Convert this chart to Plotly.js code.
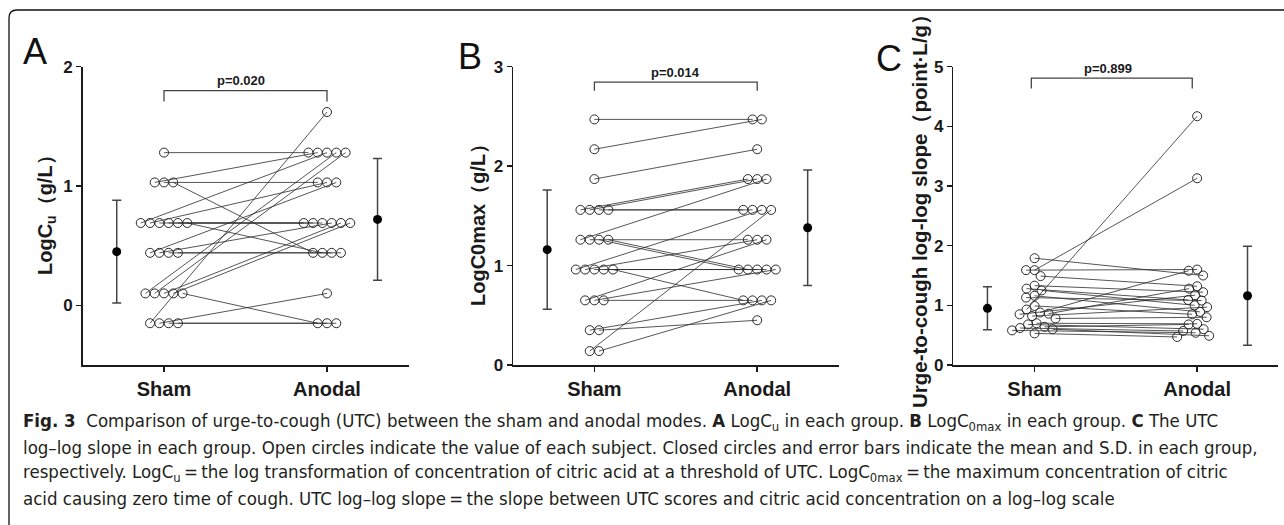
<!DOCTYPE html>
<html><head><meta charset="utf-8">
<script src="https://cdn.plot.ly/plotly-3.0.1.min.js"></script>
<style>html,body{margin:0;padding:0;background:#fff;} #chart{width:1284px;height:525px;}</style>
</head><body><div id="chart"></div>
<script>
// ---------- data ----------
const groups = ["Sham", "Anodal"];

// Panel A: LogCu, each subject paired (sham -> anodal)
const shamA   = [1.28, 1.03,1.03,1.03, 0.69,0.69,0.69,0.69,0.69,0.69, 0.44,0.44,0.44,0.44, 0.10,0.10,0.10,0.10,0.10, -0.15,-0.15,-0.15,-0.15];
const anodalA = [1.28, 1.28,1.03,0.44, 1.28,1.03,0.69,0.69,0.69,0.44, 1.03,0.69,0.44,0.44, 1.28,1.28,0.69,0.69,-0.15, 1.62,0.10,-0.15,-0.15];
const meanA = [0.45, 0.72];
const sdA   = [0.43, 0.51];
const pA = "p=0.020";

// Panel B: LogC0max
const shamB   = [2.47, 2.17, 1.87, 1.56,1.56,1.56,1.56, 1.26,1.26,1.26,1.26, 0.96,0.96,0.96,0.96,0.96, 0.65,0.65,0.65, 0.35,0.35, 0.14,0.14];
const anodalB = [2.47, 2.47, 2.17, 1.87,1.87,1.56,1.56, 1.87,1.26,0.96,0.96, 1.56,1.26,0.96,0.96,0.65, 1.26,0.96,0.65, 0.65,0.45, 1.56,0.65];
const meanB = [1.16, 1.38];
const sdB   = [0.60, 0.58];
const pB = "p=0.014";

// Panel C: UTC log-log slope
const shamC   = [1.79, 1.59, 1.59, 1.49, 1.33, 1.28, 1.25, 1.16, 1.13, 0.99, 0.93, 0.88, 0.86, 0.85, 0.82, 0.78, 0.70, 0.68, 0.64, 0.62, 0.60, 0.58, 0.53];
const anodalC = [1.50, 3.13, 1.60, 1.32, 1.22, 1.09, 1.00, 0.89, 1.08, 0.85, 4.17, 1.58, 1.28, 1.17, 0.97, 0.80, 0.69, 0.60, 0.68, 0.57, 0.49, 0.54, 0.47];
const meanC = [0.95, 1.16];
const sdC   = [0.36, 0.83];
const pC = "p=0.899";

const yTitles = ["LogC<sub>u</sub>（g/L）", "LogC0max（g/L）", "Urge-to-cough log-log slope（point·L/g）"];
const yTicks = [[0,1,2],[0,1,2,3],[0,1,2,3,4,5]];
const panelLetters = ["A","B","C"];

const captionLines = [
  "<b>Fig. 3</b>  Comparison of urge-to-cough (UTC) between the sham and anodal modes. <b>A</b> LogC<sub>u</sub> in each group. <b>B</b> LogC<sub>0max</sub> in each group. <b>C</b> The UTC",
  "log–log slope in each group. Open circles indicate the value of each subject. Closed circles and error bars indicate the mean and S.D. in each group,",
  "respectively. LogC<sub>u</sub>\u2009=\u2009the log transformation of concentration of citric acid at a threshold of UTC. LogC<sub>0max</sub>\u2009=\u2009the maximum concentration of citric",
  "acid causing zero time of cough. UTC log–log slope\u2009=\u2009the slope between UTC scores and citric acid concentration on a log–log scale"
];

// ---------- layout geometry ----------
const W = 1284, H = 525;
const px = v => v / W;
const py = v => 1 - v / H;
const plotTop = 66.7, plotBot = 365;
const FONT = "Arial, 'Liberation Sans', Helvetica, sans-serif";
const INK = "#1a1a1a";

const panels = [
  {sham: shamA, anodal: anodalA, mean: meanA, sd: sdA, p: pA, yr: [-0.5, 2], xd: [82.5, 408.5], swarm: false,
   br: {x0: 1, x1: 2, y: 1.80, drop: 0.092, ty: 1.885, tx: 1.47}, letter: {x: 23, y: 51}, title: {x: 46, y: 210, size: 20}},
  {sham: shamB, anodal: anodalB, mean: meanB, sd: sdB, p: pB, yr: [0, 3], xd: [513, 838.6], swarm: false,
   br: {x0: 1, x1: 2, y: 2.844, drop: 0.087, ty: 2.94, tx: 1.5}, letter: {x: 458, y: 57}, title: {x: 478, y: 220, size: 20}},
  {sham: shamC, anodal: anodalC, mean: meanC, sd: sdC, p: pC, yr: [0, 5], xd: [953.3, 1278.4], swarm: true,
   br: {x0: 0.98, x1: 1.97, y: 4.81, drop: 0.177, ty: 4.97, tx: 1.45}, letter: {x: 876, y: 59}, title: {x: 919, y: 206, size: 20.5}}
];

const DIAM = 9.3;

function rowOffsets(vals, unitPx) {
  const counts = {}, seen = {};
  vals.forEach(v => { const k = v.toFixed(2); counts[k] = (counts[k] || 0) + 1; });
  return vals.map(v => {
    const k = v.toFixed(2); const n = counts[k]; const i = seen[k] || 0; seen[k] = i + 1;
    return (i - (n - 1) / 2) * DIAM / unitPx;
  });
}
function swarmOffsets(vals, unitPx, yUnitPx) {
  const idx = vals.map((v, i) => i).sort((a, b) => vals[b] - vals[a]);
  const placed = []; const off = new Array(vals.length).fill(0);
  idx.forEach(i => {
    const y = vals[i] * yUnitPx;
    for (let s = 0; s < 200; s++) {
      const cand = (s % 2 === 0 ? 1 : -1) * Math.ceil(s / 2) * 0.5;
      let ok = true;
      for (const p of placed) {
        const dx = cand - p.x, dy = y - p.y;
        if (dx * dx + dy * dy < DIAM * DIAM * 0.8) { ok = false; break; }
      }
      if (ok) { off[i] = cand / unitPx; placed.push({x: cand, y: y}); break; }
    }
  });
  return off;
}

const traces = [], shapes = [], annotations = [];
const layout = {
  width: W, height: H, margin: {l: 0, r: 0, t: 0, b: 0},
  paper_bgcolor: "#fff", plot_bgcolor: "rgba(0,0,0,0)",
  showlegend: false, hovermode: false, font: {family: FONT, color: INK}
};

panels.forEach((P, k) => {
  const sfx = k === 0 ? "" : String(k + 1);
  const xa = "x" + sfx, ya = "y" + sfx;
  const unitPx = (P.xd[1] - P.xd[0]) / 2;
  const yUnitPx = (plotBot - plotTop) / (P.yr[1] - P.yr[0]);
  const offS = P.swarm ? swarmOffsets(P.sham, unitPx, yUnitPx) : rowOffsets(P.sham, unitPx);
  const offA = P.swarm ? swarmOffsets(P.anodal, unitPx, yUnitPx) : rowOffsets(P.anodal, unitPx);

  const lx = [], ly = [];
  P.sham.forEach((s, i) => { lx.push(1 + offS[i], 2 + offA[i], null); ly.push(s, P.anodal[i], null); });
  traces.push({type: "scatter", mode: "lines", x: lx, y: ly, xaxis: xa, yaxis: ya,
    line: {color: "#2b2b2b", width: 0.8}, cliponaxis: false});
  traces.push({type: "scatter", mode: "markers",
    x: P.sham.map((s, i) => 1 + offS[i]).concat(P.anodal.map((a, i) => 2 + offA[i])),
    y: P.sham.concat(P.anodal), xaxis: xa, yaxis: ya, cliponaxis: false,
    marker: {symbol: "circle-open", size: 9, color: "#2b2b2b", line: {width: 1, color: "#2b2b2b"}}});
  traces.push({type: "scatter", mode: "markers", x: [0.71, 2.31], y: P.mean, xaxis: xa, yaxis: ya, cliponaxis: false,
    marker: {symbol: "circle", size: 9, color: "#000"},
    error_y: {type: "data", array: P.sd, visible: true, color: "#444", thickness: 1.5, width: 4.5}});

  layout["xaxis" + sfx] = {domain: [px(P.xd[0]), px(P.xd[1])], range: [0.5, 2.5], anchor: ya,
    showgrid: false, zeroline: false, showline: true, linecolor: INK, linewidth: 1.5,
    ticks: "outside", ticklen: 5, tickwidth: 1.5, tickcolor: INK,
    tickvals: [1, 2], ticktext: groups,
    tickfont: {family: FONT, size: 20, color: INK, weight: "bold"}, fixedrange: true};
  layout["yaxis" + sfx] = {domain: [py(plotBot), py(plotTop)], range: P.yr, anchor: xa,
    showgrid: false, zeroline: false, showline: true, linecolor: INK, linewidth: 1.5,
    ticks: "outside", ticklen: 5, tickwidth: 1.5, tickcolor: INK,
    tickvals: yTicks[k], ticktext: yTicks[k].map(String),
    tickfont: {family: FONT, size: 17, color: INK, weight: "bold"}, fixedrange: true};

  // significance bracket
  const b = P.br;
  shapes.push({type: "path", xref: xa, yref: ya,
    path: `M ${b.x0},${b.y - b.drop} L ${b.x0},${b.y} L ${b.x1},${b.y} L ${b.x1},${b.y - b.drop}`,
    line: {color: "#444", width: 1.3}});
  annotations.push({xref: xa, yref: ya, x: b.tx, y: b.ty, text: P.p, showarrow: false,
    xanchor: "center", yanchor: "middle", font: {family: FONT, size: 13, color: INK, weight: "bold"}});

  // panel letter
  annotations.push({xref: "paper", yref: "paper", x: px(P.letter.x - 2), y: py(P.letter.y), text: panelLetters[k],
    showarrow: false, xanchor: "left", yanchor: "middle", font: {family: FONT, size: 36, color: "#111"}});
  // y title
  annotations.push({xref: "paper", yref: "paper", x: px(P.title.x), y: py(P.title.y), text: yTitles[k],
    textangle: -90, showarrow: false, xanchor: "center", yanchor: "middle",
    font: {family: FONT, size: P.title.size, color: INK, weight: "bold"}});
});

// caption
const capY = [422, 447.5, 473, 498.5];
captionLines.forEach((t, i) => {
  annotations.push({xref: "paper", yref: "paper", x: px(21), y: py(capY[i]), text: t, showarrow: false,
    xanchor: "left", yanchor: "middle", align: "left",
    font: {family: "'Liberation Sans Narrow', 'DejaVu Sans Condensed', 'Arial Narrow', sans-serif", size: 18.5, color: "#231f20"}});
});

// outer frame (open to right and bottom)
shapes.push({type: "path", xref: "paper", yref: "paper",
  path: `M ${px(9)},${py(540)} L ${px(9)},${py(18)} Q ${px(9)},${py(10)} ${px(17)},${py(10)} L ${px(1300)},${py(10)}`,
  line: {color: "#111", width: 1.3}});

layout.shapes = shapes;
layout.annotations = annotations;
Plotly.newPlot("chart", traces, layout, {displayModeBar: false, staticPlot: true});
</script></body></html>
